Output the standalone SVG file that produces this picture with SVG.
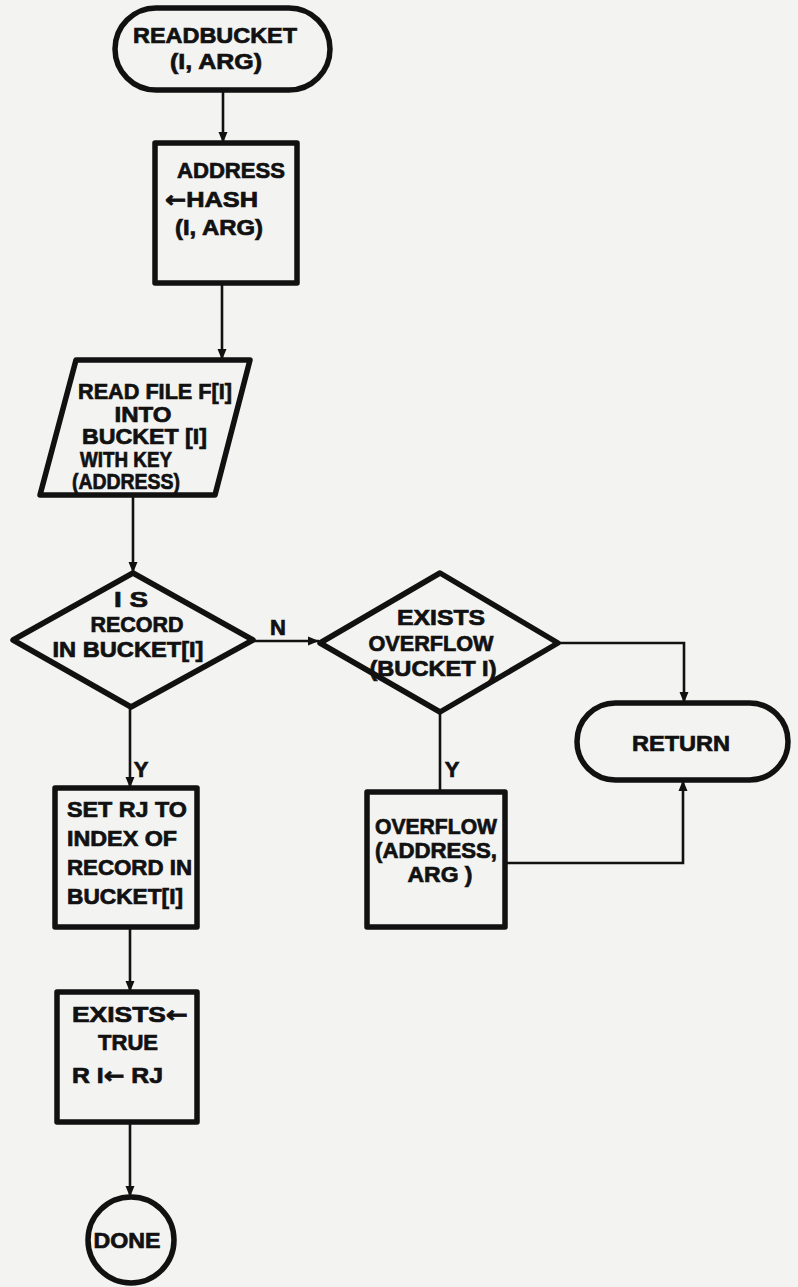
<svg xmlns="http://www.w3.org/2000/svg" width="798" height="1287" viewBox="0 0 798 1287">
<style>
.bg{fill:#f3f3f1}
.shape{fill:none;stroke:#111;stroke-width:5.5;stroke-linejoin:round}
.conn{fill:none;stroke:#111;stroke-width:2.6}
.t{font-family:"Liberation Sans","DejaVu Sans",sans-serif;font-weight:bold;font-size:22px;fill:#111;stroke:#111;stroke-width:0.7}
.m{text-anchor:middle}
.ar{font-family:"DejaVu Sans",sans-serif}
</style>
<defs>
<marker id="ah" markerUnits="userSpaceOnUse" markerWidth="12" markerHeight="10" refX="11" refY="5" orient="auto">
<path d="M0,0.5 L11,5 L0,9.5 z" fill="#111"/>
</marker>
</defs>
<rect class="bg" x="0" y="0" width="798" height="1287"/>

<g id="connectors">
<line class="conn" x1="223" y1="90" x2="223" y2="143" marker-end="url(#ah)"/>
<line class="conn" x1="222" y1="283" x2="222" y2="360" marker-end="url(#ah)"/>
<line class="conn" x1="133" y1="495" x2="133" y2="573" marker-end="url(#ah)"/>
<line class="conn" x1="253" y1="641" x2="319" y2="641" marker-end="url(#ah)"/>
<text class="t m" x="278" y="635" font-size="20">N</text>
<path class="conn" d="M558,643 H684 V703" marker-end="url(#ah)"/>
<line class="conn" x1="440" y1="712" x2="440" y2="792"/>
<text class="t m" x="452" y="777" font-size="20">Y</text>
<path class="conn" d="M505,863 H683 V780" marker-end="url(#ah)"/>
<line class="conn" x1="130" y1="707" x2="130" y2="788" marker-end="url(#ah)"/>
<text class="t m" x="141" y="777" font-size="20">Y</text>
<line class="conn" x1="130" y1="927" x2="130" y2="992" marker-end="url(#ah)"/>
<line class="conn" x1="130" y1="1122" x2="130" y2="1197" marker-end="url(#ah)"/>
</g>

<g id="start">
<rect class="shape" x="115" y="8" width="215" height="82" rx="41"/>
<text class="t m" x="215" y="43" font-size="23" textLength="164" lengthAdjust="spacingAndGlyphs">READBUCKET</text>
<text class="t m" x="216" y="69" font-size="23" textLength="92" lengthAdjust="spacingAndGlyphs">(I, ARG)</text>
</g>

<g id="hash">
<rect class="shape" x="155" y="143" width="142" height="140"/>
<text class="t" x="177" y="178" textLength="108" lengthAdjust="spacingAndGlyphs">ADDRESS</text>
<text class="t" x="165" y="207" textLength="93" lengthAdjust="spacingAndGlyphs"><tspan class="ar">←</tspan>HASH</text>
<text class="t" x="175" y="235" textLength="88" lengthAdjust="spacingAndGlyphs">(I, ARG)</text>
</g>

<g id="readfile">
<polygon class="shape" points="76,360 250,360 215,495 40,495"/>
<text class="t" x="78" y="399" font-size="20" textLength="154" lengthAdjust="spacingAndGlyphs">READ FILE F[I]</text>
<text class="t m" x="143" y="421.5" font-size="20" textLength="57" lengthAdjust="spacingAndGlyphs">INTO</text>
<text class="t" x="82" y="444" font-size="20" textLength="125" lengthAdjust="spacingAndGlyphs">BUCKET [I]</text>
<text class="t" x="80" y="466.5" font-size="20" textLength="92" lengthAdjust="spacingAndGlyphs">WITH KEY</text>
<text class="t" x="72" y="489" font-size="20" textLength="108" lengthAdjust="spacingAndGlyphs">(ADDRESS)</text>
</g>

<g id="isrecord">
<polygon class="shape" points="133,573 253,640 131,707 13,640"/>
<text class="t m" x="131" y="607" textLength="34" lengthAdjust="spacingAndGlyphs">I S</text>
<text class="t m" x="137" y="632" textLength="93" lengthAdjust="spacingAndGlyphs">RECORD</text>
<text class="t m" x="128" y="657" textLength="151" lengthAdjust="spacingAndGlyphs">IN BUCKET[I]</text>
</g>

<g id="existsoverflow">
<polygon class="shape" points="440,573 558,643 440,712 320,643"/>
<text class="t m" x="441" y="625" textLength="88" lengthAdjust="spacingAndGlyphs">EXISTS</text>
<text class="t m" x="431" y="651" textLength="125" lengthAdjust="spacingAndGlyphs">OVERFLOW</text>
<text class="t m" x="433" y="676" textLength="127" lengthAdjust="spacingAndGlyphs">(BUCKET I)</text>
</g>

<g id="return">
<rect class="shape" x="577" y="703" width="211" height="77" rx="38.5"/>
<text class="t m" x="681" y="751" font-size="23" textLength="98" lengthAdjust="spacingAndGlyphs">RETURN</text>
</g>

<g id="overflow">
<rect class="shape" x="367" y="792" width="138" height="135"/>
<text class="t" x="375" y="834" font-size="21" textLength="122" lengthAdjust="spacingAndGlyphs">OVERFLOW</text>
<text class="t" x="375" y="858" font-size="21" textLength="122" lengthAdjust="spacingAndGlyphs">(ADDRESS,</text>
<text class="t m" x="440" y="882" font-size="21" textLength="65" lengthAdjust="spacingAndGlyphs">ARG )</text>
</g>

<g id="setrj">
<rect class="shape" x="55" y="788" width="142" height="139"/>
<text class="t" x="67" y="817" font-size="23" textLength="120" lengthAdjust="spacingAndGlyphs">SET RJ TO</text>
<text class="t" x="67" y="846" font-size="23" textLength="110" lengthAdjust="spacingAndGlyphs">INDEX OF</text>
<text class="t" x="67" y="875" font-size="23" textLength="125" lengthAdjust="spacingAndGlyphs">RECORD IN</text>
<text class="t" x="67" y="904" font-size="23" textLength="116" lengthAdjust="spacingAndGlyphs">BUCKET[I]</text>
</g>

<g id="existstrue">
<rect class="shape" x="57" y="992" width="140" height="130"/>
<text class="t" x="72" y="1022" font-size="23" textLength="116" lengthAdjust="spacingAndGlyphs">EXISTS<tspan class="ar">←</tspan></text>
<text class="t m" x="128" y="1050" font-size="23" textLength="60" lengthAdjust="spacingAndGlyphs">TRUE</text>
<text class="t" x="72" y="1083" font-size="23" textLength="91" lengthAdjust="spacingAndGlyphs">R I<tspan class="ar">←</tspan> RJ</text>
</g>

<g id="done">
<circle class="shape" cx="131" cy="1240" r="43"/>
<text class="t m" x="127" y="1248" font-size="21" textLength="67" lengthAdjust="spacingAndGlyphs">DONE</text>
</g>
</svg>
